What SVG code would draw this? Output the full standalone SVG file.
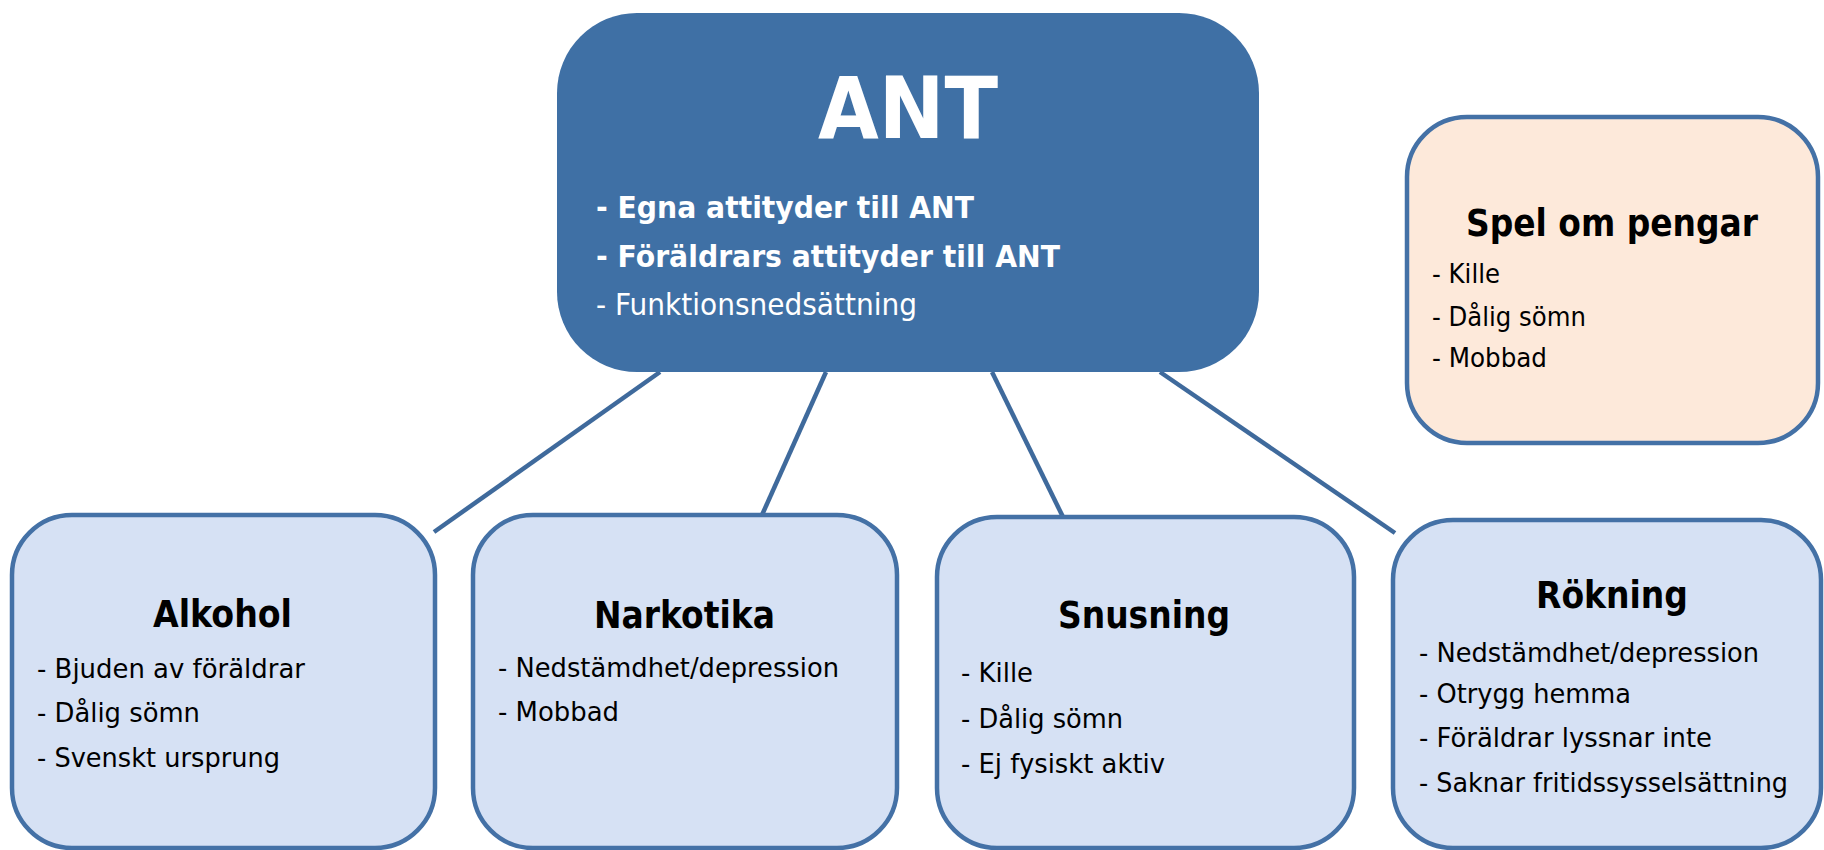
<svg xmlns="http://www.w3.org/2000/svg" width="1824" height="850" viewBox="0 0 1824 850">
<style>
.box{fill:#D6E1F4;stroke:#4471A6;stroke-width:4.5}
.peach{fill:#FDE9DA;stroke:#4471A6;stroke-width:4.5}
.main{fill:#3F70A5}
.t{font-family:"DejaVu Sans","Liberation Sans",sans-serif;font-weight:bold;font-size:37px;fill:#000}
.b{font-family:"DejaVu Sans","Liberation Sans",sans-serif;font-size:27px;fill:#000}
.wb{font-family:"DejaVu Sans","Liberation Sans",sans-serif;font-weight:bold;font-size:30px;fill:#fff}
.w{font-family:"DejaVu Sans","Liberation Sans",sans-serif;font-size:30px;fill:#fff}
.conn line{stroke:#3F6A9C;stroke-width:4.5;fill:none}
</style>
<rect width="1824" height="850" fill="#fff"/>
<g id="connectors" class="conn">
<line x1="660" y1="372" x2="434" y2="532"/>
<line x1="826" y1="372" x2="762" y2="515"/>
<line x1="992" y1="372" x2="1063" y2="517"/>
<line x1="1160" y1="372" x2="1395" y2="533"/>
</g>
<g id="ant">
<rect class="main" x="557" y="13" width="702" height="359" rx="80"/>
<text x="818" y="138" textLength="180" lengthAdjust="spacingAndGlyphs" style="font-family:'DejaVu Sans','Liberation Sans',sans-serif;font-weight:bold;font-size:85px;fill:#fff">ANT</text>
<text class="wb" x="596" y="218" textLength="378" lengthAdjust="spacingAndGlyphs">- Egna attityder till ANT</text>
<text class="wb" x="596" y="267" textLength="464" lengthAdjust="spacingAndGlyphs">- Föräldrars attityder till ANT</text>
<text class="w" x="596" y="315" textLength="321" lengthAdjust="spacingAndGlyphs">- Funktionsnedsättning</text>
</g>
<g id="spel">
<rect class="peach" x="1407" y="117" width="411" height="326" rx="60"/>
<text class="t" x="1466" y="236" textLength="292" lengthAdjust="spacingAndGlyphs">Spel om pengar</text>
<text class="b" x="1432" y="283" textLength="68" lengthAdjust="spacingAndGlyphs">- Kille</text>
<text class="b" x="1432" y="326" textLength="154" lengthAdjust="spacingAndGlyphs">- Dålig sömn</text>
<text class="b" x="1432" y="367" textLength="115" lengthAdjust="spacingAndGlyphs">- Mobbad</text>
</g>
<g id="alkohol">
<rect class="box" x="12" y="515" width="423" height="333" rx="60"/>
<text class="t" x="153" y="627" textLength="139" lengthAdjust="spacingAndGlyphs">Alkohol</text>
<text class="b" x="37" y="678" textLength="268" lengthAdjust="spacingAndGlyphs">- Bjuden av föräldrar</text>
<text class="b" x="37" y="722" textLength="163" lengthAdjust="spacingAndGlyphs">- Dålig sömn</text>
<text class="b" x="37" y="767" textLength="243" lengthAdjust="spacingAndGlyphs">- Svenskt ursprung</text>
</g>
<g id="narkotika">
<rect class="box" x="473" y="515" width="424" height="333" rx="60"/>
<text class="t" x="594" y="628" textLength="181" lengthAdjust="spacingAndGlyphs">Narkotika</text>
<text class="b" x="498" y="677" textLength="341" lengthAdjust="spacingAndGlyphs">- Nedstämdhet/depression</text>
<text class="b" x="498" y="721" textLength="121" lengthAdjust="spacingAndGlyphs">- Mobbad</text>
</g>
<g id="snusning">
<rect class="box" x="937" y="517" width="417" height="331" rx="60"/>
<text class="t" x="1058" y="628" textLength="172" lengthAdjust="spacingAndGlyphs">Snusning</text>
<text class="b" x="961" y="682" textLength="72" lengthAdjust="spacingAndGlyphs">- Kille</text>
<text class="b" x="961" y="728" textLength="162" lengthAdjust="spacingAndGlyphs">- Dålig sömn</text>
<text class="b" x="961" y="773" textLength="204" lengthAdjust="spacingAndGlyphs">- Ej fysiskt aktiv</text>
</g>
<g id="rokning">
<rect class="box" x="1393" y="520" width="428" height="328" rx="60"/>
<text class="t" x="1536" y="608" textLength="152" lengthAdjust="spacingAndGlyphs">Rökning</text>
<text class="b" x="1419" y="662" textLength="340" lengthAdjust="spacingAndGlyphs">- Nedstämdhet/depression</text>
<text class="b" x="1419" y="703" textLength="212" lengthAdjust="spacingAndGlyphs">- Otrygg hemma</text>
<text class="b" x="1419" y="747" textLength="293" lengthAdjust="spacingAndGlyphs">- Föräldrar lyssnar inte</text>
<text class="b" x="1419" y="792" textLength="369" lengthAdjust="spacingAndGlyphs">- Saknar fritidssysselsättning</text>
</g>
</svg>
